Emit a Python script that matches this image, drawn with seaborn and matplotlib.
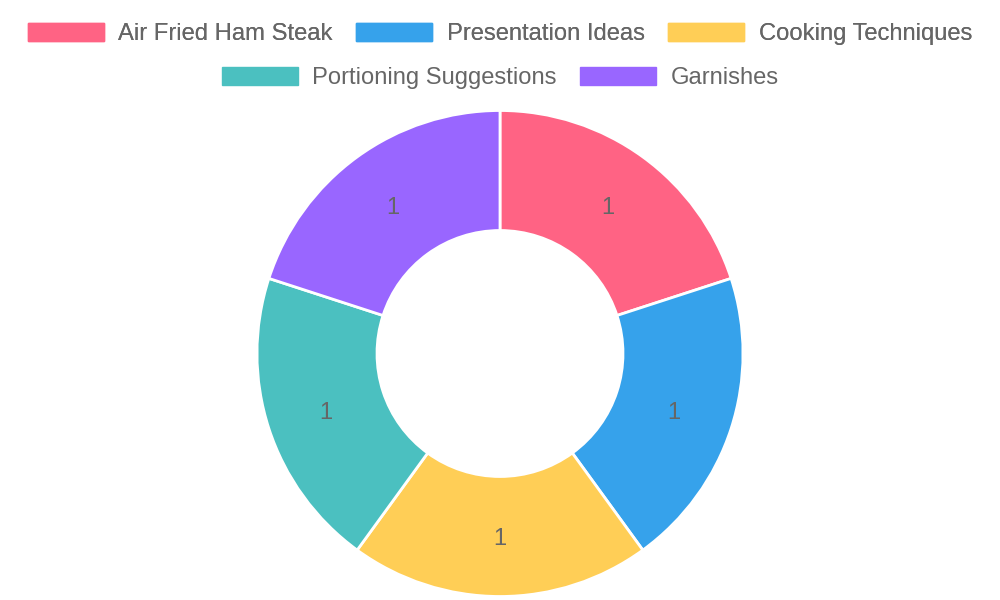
import matplotlib
matplotlib.use("Agg")
import matplotlib.pyplot as plt
from matplotlib.patches import Patch
import seaborn as sns

# chart data
categories = ["Air Fried Ham Steak", "Presentation Ideas", "Cooking Techniques",
              "Portioning Suggestions", "Garnishes"]
values = [1, 1, 1, 1, 1]
colors = ["#FF6384", "#36A2EB", "#FFCE56", "#4BC0C0", "#9966FF"]

sns.set_theme(style="white")
plt.rcParams["font.family"] = ["Liberation Sans", "DejaVu Sans"]

fig = plt.figure(figsize=(10, 6), dpi=100)

# donut centred at (500, 353) px, outer radius ~242 px
cx, cy, r = 500, 353.5, 243
ax = fig.add_axes([(cx - r) / 1000, (600 - cy - r) / 600, 2 * r / 1000, 2 * r / 600])

inner = 123 / r
wedges, texts = ax.pie(
    values,
    colors=colors,
    startangle=90,
    counterclock=False,
    radius=1,
    labels=[str(v) for v in values],
    labeldistance=(1 + inner) / 2,
    wedgeprops=dict(width=1 - inner, edgecolor="white", linewidth=2),
    textprops=dict(color="#666666", fontsize=17, ha="center", va="center_baseline"),
)
ax.set_xlim(-1, 1)
ax.set_ylim(-1, 1)
ax.set_aspect("equal")
ax.axis("off")

# legend in two centred rows like the original
handles = [Patch(facecolor=c, edgecolor=c) for c in colors]
leg_kw = dict(loc="center", frameon=False, fontsize=17.1, handlelength=3.2,
              handleheight=0.83, handletextpad=0.6, columnspacing=1.0,
              borderpad=0, borderaxespad=0, labelcolor="#666666")
leg1 = fig.legend(handles[:3], categories[:3], ncol=3,
                  bbox_to_anchor=(0.5, 1 - 34 / 600), **leg_kw)
fig.add_artist(leg1)
fig.legend(handles[3:], categories[3:], ncol=2,
           bbox_to_anchor=(0.5, 1 - 78 / 600), **leg_kw)

fig.savefig("out.png", dpi=100, facecolor="white")
